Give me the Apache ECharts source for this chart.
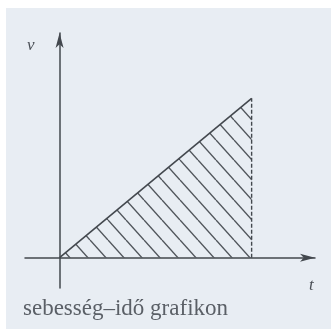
<!DOCTYPE html>
<html>
<head>
<meta charset="utf-8">
<script src="https://cdn.jsdelivr.net/npm/echarts@6/dist/echarts.min.js"></script>
<style>
  html, body { margin: 0; padding: 0; background: #fff; }
  #chart { width: 331px; height: 329px; }
</style>
</head>
<body>
<div id="chart"></div>
<script>
// sebesség–idő: egyenletesen gyorsuló mozgás
var times = [0, 10];
var speeds = [0, 10];
var tEnd = 10;
var caption = 'sebesség–idő grafikon';

var chart = echarts.init(document.getElementById('chart'));

// diagonal hatch pattern for the area under the line
function hatchPattern() {
    var w = 18, h = 20;
    var c = document.createElement('canvas');
    c.width = w; c.height = h;
    var ctx = c.getContext('2d');
    ctx.strokeStyle = '#50555b';
    ctx.lineWidth = 1.4;
    [-w, 0, w].forEach(function (dx) {
        ctx.beginPath();
        ctx.moveTo(dx, 0);
        ctx.lineTo(dx + w, h);
        ctx.stroke();
    });
    return c;
}

var lineData = times.map(function (t, i) { return [t, speeds[i]]; });
var dashData = [[tEnd, 0], [tEnd, speeds[speeds.length - 1]]];

var axisLine = {
    show: true,
    onZero: true,
    symbol: ['none', 'arrow'],
    symbolSize: [6, 15],
    lineStyle: { color: '#43484e', width: 1.5 }
};

var options = {
    backgroundColor: '#ffffff',
    animation: false,
    grid: { left: 25, right: 16, top: 33, bottom: 41 },
    xAxis: {
        type: 'value',
        min: -1.8,
        max: 13.3,
        axisLine: axisLine,
        axisTick: { show: false },
        axisLabel: { show: false },
        splitLine: { show: false }
    },
    yAxis: {
        type: 'value',
        min: -1.9,
        max: 14.1,
        axisLine: axisLine,
        axisTick: { show: false },
        axisLabel: { show: false },
        splitLine: { show: false }
    },
    graphic: [
        {
            type: 'rect', z: -10, silent: true,
            shape: { x: 6, y: 8, width: 325, height: 321 },
            style: { fill: '#e8edf3' }
        },
        {
            type: 'text', left: 27, top: 37,
            style: { text: 'v', font: 'italic 17px "Liberation Serif"', fill: '#4a4f56' }
        },
        {
            type: 'text', left: 309, top: 277,
            style: { text: 't', font: 'italic 17px "Liberation Serif"', fill: '#4a4f56' }
        },
        {
            type: 'text', left: 23, top: 297,
            style: { text: caption, font: '23px "Liberation Serif"', fill: '#5a5f66' }
        }
    ],
    series: [
        {
            type: 'line',
            data: lineData,
            symbol: 'none',
            lineStyle: { color: '#43484e', width: 1.6 },
            areaStyle: {
                color: { image: hatchPattern(), repeat: 'repeat' },
                opacity: 1
            }
        },
        {
            type: 'line',
            data: dashData,
            symbol: 'none',
            lineStyle: { color: '#43484e', width: 1.4, type: [4, 2] }
        }
    ]
};

chart.setOption(options);
</script>
</body>
</html>
